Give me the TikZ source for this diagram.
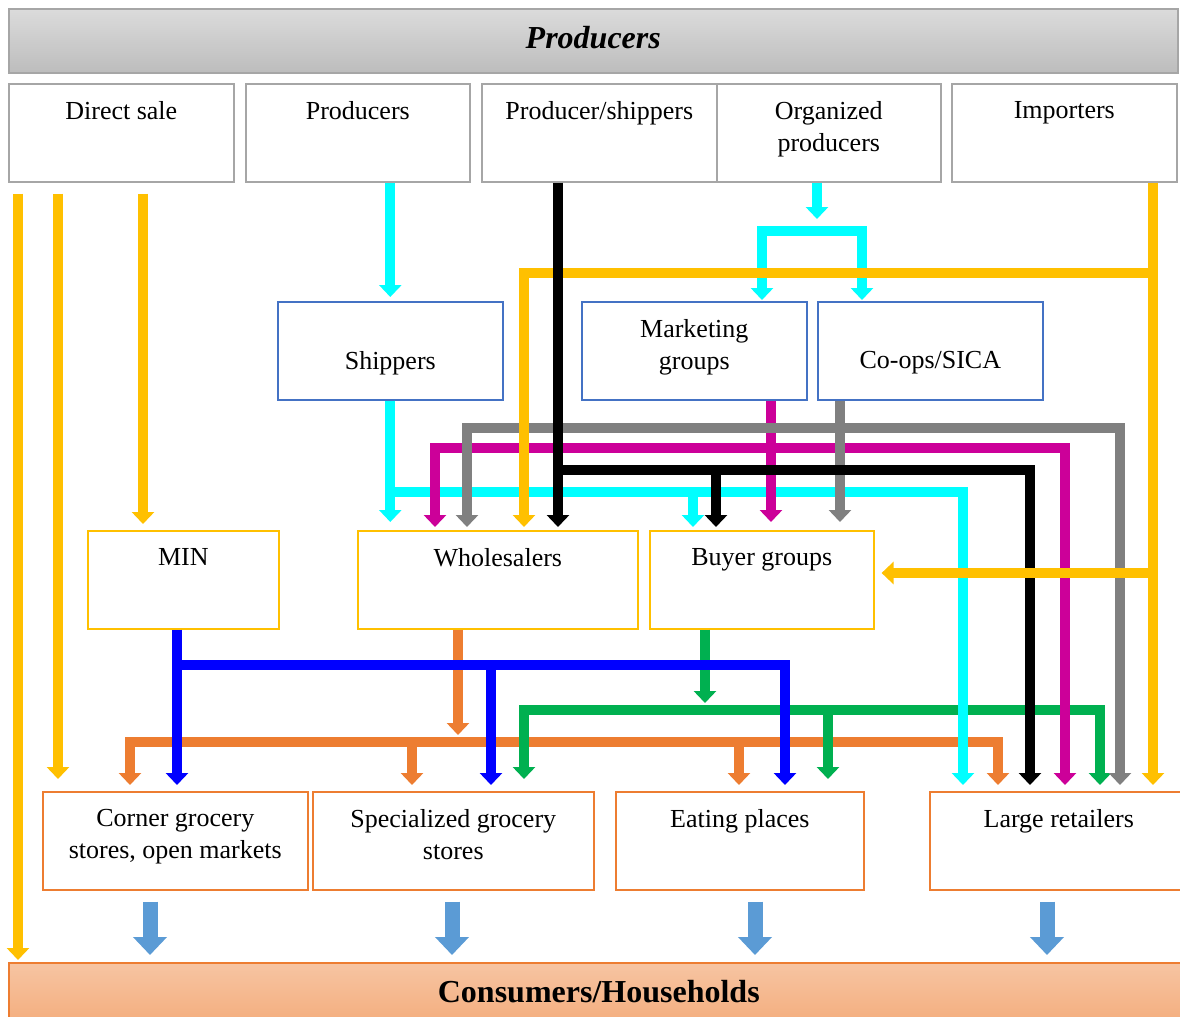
\documentclass[tikz,border=0pt]{standalone}
\usepackage{fontspec}
\setmainfont{Liberation Serif}
\usepackage{tikz}
\usetikzlibrary{arrows.meta}

\definecolor{ylw}{HTML}{FFC000}
\definecolor{cyn}{HTML}{00FFFF}
\definecolor{mag}{HTML}{CC0099}
\definecolor{gry}{HTML}{808080}
\definecolor{blu}{HTML}{0000FF}
\definecolor{org}{HTML}{ED7D31}
\definecolor{grn}{HTML}{00B050}
\definecolor{sky}{HTML}{5B9BD5}
\definecolor{boxgray}{HTML}{A6A6A6}
\definecolor{boxblue}{HTML}{4472C4}

\tikzset{box/.style={draw, line width=0.8pt, fill=white, anchor=north west, minimum height=49pt, inner sep=0pt}}
\tikzset{prodbox/.style={box, draw=boxgray}}
\tikzset{shipbox/.style={box, draw=boxblue}}
\tikzset{midbox/.style={box, draw=ylw}}
\tikzset{retbox/.style={box, draw=org}}
\tikzset{txt/.style={anchor=north, align=center, inner sep=3pt, yshift=-6pt, font=\fontsize{13}{16}\selectfont}}
\tikzset{txtlow/.style={txt, yshift=-16pt}}
\tikzstyle{flow} = [line width=5pt, -{Triangle[width=11pt,length=6pt]}]
\tikzstyle{flowtwo} = [line width=5pt, {Triangle[width=11pt,length=6pt]}-{Triangle[width=11pt,length=6pt]}]
\tikzstyle{bigarrow} = [sky, line width=7.5pt, -{Triangle[width=16.5pt,length=9pt]}, shorten <=5.5pt, shorten >=3.5pt]

\begin{document}
\begin{tikzpicture}[x=0.5pt, y=-0.5pt]
\useasboundingbox (0,0) rectangle (1180,1017);

% banners
\node[draw=boxgray, line width=0.8pt, top color=black!14, bottom color=black!26, anchor=north west, text depth=3pt,
  minimum width=584.5pt, minimum height=32pt, font=\fontsize{16}{19}\selectfont\bfseries\itshape] (prodbar) at (8,8) {Producers};
\node[draw=org, line width=0.8pt, top color=org!45, bottom color=org!62, anchor=north west,
  minimum width=590pt, minimum height=29pt, font=\fontsize{16}{19}\selectfont\bfseries] (cons) at (8,962) {Consumers/Households};

% first row
\node[prodbox, minimum width=112.5pt, label={[txt]north:Direct sale}] (ds) at (8,83) {};
\node[prodbox, minimum width=112pt, label={[txt]north:Producers}] (prod) at (245,83) {};
\node[prodbox, minimum width=117.5pt, label={[txt]north:Producer/shippers}] (ps) at (481,83) {};
\node[prodbox, minimum width=112pt, label={[txt]north:Organized\\producers}] (org) at (716,83) {};
\node[prodbox, minimum width=112.5pt, label={[txt]north:Importers}] (imp) at (951,83) {};

% second row
\node[shipbox, minimum width=112.5pt, label={[txtlow]north:Shippers}] (ship) at (277,301) {};
\node[shipbox, minimum width=112.5pt, label={[txt]north:Marketing\\groups}] (mg) at (581,301) {};
\node[shipbox, minimum width=112.5pt, label={[txtlow]north:Co-ops/SICA}] (cs) at (817,301) {};

% third row
\node[midbox, minimum width=95.5pt, label={[txt]north:MIN}] (min) at (87,530) {};
\node[midbox, minimum width=140pt, label={[txt]north:Wholesalers}] (ws) at (357,530) {};
\node[midbox, minimum width=112pt, label={[txt]north:Buyer groups}] (bg) at (649,530) {};

% retail row
\node[retbox, minimum width=132.5pt, label={[txt]north:Corner grocery\\stores, open markets}] (corner) at (42,791) {};
\node[retbox, minimum width=140.5pt, label={[txt]north:Specialized grocery\\stores}] (spec) at (312,791) {};
\node[retbox, minimum width=124pt, label={[txt]north:Eating places}] (eat) at (615,791) {};
\node[retbox, minimum width=129pt, label={[txt]north:Large retailers}] (lr) at (929,791) {};

% bottom part
\draw[flow, org] (458,0 |- ws.south) -- (458,735);
\draw[flowtwo, org, shorten <=3pt, shorten >=3pt] (130,0 |- corner.north) |- (998,742) -- (998,0 |- lr.north);
\draw[flow, org, shorten >=3pt] (412,742) -- (412,0 |- spec.north);
\draw[flow, org, shorten >=3pt] (739,742) -- (739,0 |- eat.north);

\draw[flow, grn] (705,0 |- bg.south) -- (705,703);
\draw[flowtwo, grn, shorten <=6pt, shorten >=3pt] (524,0 |- spec.north) |- (1100,710) -- (1100,0 |- lr.north);
\draw[flow, grn, shorten >=6pt] (828,710) -- (828,0 |- eat.north);

\draw[flow, blu, shorten >=3pt] (177,0 |- min.south) -- (177,0 |- corner.north);
\draw[flow, blu, shorten >=3pt] (177,665) -| (785,0 |- eat.north);
\draw[flow, blu, shorten >=3pt] (491,665) -- (491,0 |- spec.north);

% direct sale
\draw[flow, ylw, shorten <=5.5pt, shorten >=1pt] (18,0 |- ds.south) -- (18,0 |- cons.north);
\draw[flow, ylw, shorten <=5.5pt, shorten >=6pt] (58,0 |- ds.south) -- (58,0 |- corner.north);
\draw[flow, ylw, shorten <=5.5pt, shorten >=3pt] (143,0 |- ds.south) -- (143,0 |- min.north);

% shippers and organized producers
\draw[flow, cyn, shorten >=2pt] (ship.north |- prod.south) -- (ship.north);
\draw[flow, cyn] (817,0 |- org.south) -- (817,219);
\draw[flowtwo, cyn, shorten <=0.5pt, shorten >=0.5pt] (762,0 |- mg.north) |- (862,231) -- (862,0 |- cs.north);
\draw[flow, cyn, shorten >=4pt] (ship.south) -- (ship.south |- ws.north);
\draw[flow, cyn, shorten >=3pt] (ship.south) |- (963,492) -- (963,0 |- lr.north);
\draw[flow, cyn, shorten >=1.5pt] (693,492) -- (693,0 |- bg.north);

\draw[flow, mag, shorten >=4pt] (771,0 |- mg.south) -- (771,0 |- bg.north);
\draw[flowtwo, mag, shorten <=1.5pt, shorten >=3pt] (435,0 |- ws.north) |- (1065,448) -- (1065,0 |- lr.north);

\draw[flow, gry, shorten >=4pt] (840,0 |- cs.south) -- (840,0 |- bg.north);
\draw[flowtwo, gry, shorten <=1.5pt, shorten >=3pt] (467,0 |- ws.north) |- (1120,428) -- (1120,0 |- lr.north);

\draw[flow, black, shorten >=3pt] (558,470) -| (1030,0 |- lr.north);
\draw[flow, black, shorten >=1.5pt] (716,470) -- (716,0 |- bg.north);

% importers
\draw[flow, ylw, shorten >=3pt] (1153,0 |- imp.south) -- (1153,0 |- lr.north);
\draw[flow, ylw, shorten >=1.5pt] (1153,273) -| (524,0 |- ws.north);
\draw[flow, ylw, shorten >=3.5pt] (1153,573) -- (bg.east |- 0,573);

\draw[flow, black, shorten >=1.5pt] (558,0 |- ps.south) -- (558,0 |- ws.north);

% to consumers
\draw[bigarrow] (150,0 |- corner.south) -- (150,0 |- cons.north);
\draw[bigarrow] (452,0 |- spec.south) -- (452,0 |- cons.north);
\draw[bigarrow] (755,0 |- eat.south) -- (755,0 |- cons.north);
\draw[bigarrow] (1047,0 |- lr.south) -- (1047,0 |- cons.north);
\end{tikzpicture}
\end{document}
